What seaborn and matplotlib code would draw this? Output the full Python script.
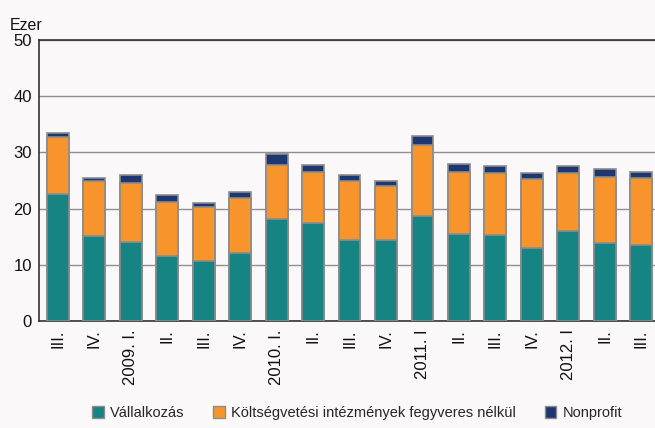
import pandas as pd
import seaborn as sns
import matplotlib.pyplot as plt
from matplotlib.patches import Patch

# quarters 2008 III. - 2012 III.
quarters = ["III.", "IV.", "2009. I.", "II.", "III.", "IV.", "2010. I.", "II.", "III.",
            "IV.", "2011. I", "II.", "III.", "IV.", "2012. I", "II.", "III."]
vallalkozas = [22.6, 15.2, 14.1, 11.5, 10.7, 12.1, 18.1, 17.5, 14.4,
               14.4, 18.7, 15.5, 15.3, 13.0, 16.1, 13.9, 13.5]
koltsegvetesi = [10.2, 9.7, 10.5, 9.6, 9.6, 9.7, 9.7, 9.1, 10.5,
                 9.6, 12.7, 11.1, 11.0, 12.2, 10.2, 11.8, 11.9]
nonprofit = [0.7, 0.6, 1.3, 1.3, 0.7, 1.2, 2.0, 1.2, 1.0,
             1.0, 1.6, 1.3, 1.3, 1.2, 1.3, 1.3, 1.1]

labels = ["Vállalkozás", "Költségvetési intézmények fegyveres nélkül", "Nonprofit"]
colors = ["#168482", "#F7952C", "#1F3770"]

df = pd.DataFrame({"q": range(len(quarters)),
                   "v": vallalkozas, "k": koltsegvetesi, "n": nonprofit})
df["vk"] = df["v"] + df["k"]
df["vkn"] = df["vk"] + df["n"]

sns.set_style("white")
plt.rcParams["font.family"] = ["Liberation Sans", "DejaVu Sans"]
bg = "#FBF8F9"

fig = plt.figure(figsize=(6.55, 4.28), dpi=100, facecolor=bg)
ax = fig.add_axes([0.0595, 0.25, 0.9405, 0.6565])
ax.set_facecolor(bg)

# layered: totals first, then smaller cumulative sums on top
for col, c in zip(["vkn", "vk", "v"], colors[::-1]):
    sns.barplot(data=df, x="q", y=col, color=c, saturation=1, width=0.6,
                edgecolor="#8C8C8C", linewidth=1.2, ax=ax, zorder=3)

ax.set_ylim(0, 50)
ax.set_yticks(range(0, 51, 10))
ax.set_xlim(-0.52, 16.38)
ax.set_xticks(range(len(quarters)))
ax.set_xticklabels(quarters, rotation=90, va="top")
ax.tick_params(axis="both", length=0, labelsize=12, colors="#111111")
ax.tick_params(axis="x", pad=6)
ax.tick_params(axis="y", pad=5)
ax.set_xlabel("")
ax.set_ylabel("")
ax.yaxis.grid(True, color="#8E8E94", linewidth=1.0, zorder=0)
ax.set_axisbelow(True)

for s in ["left", "bottom", "top"]:
    ax.spines[s].set_color("#333333")
    ax.spines[s].set_linewidth(1.2)
ax.spines["right"].set_visible(False)

fig.text(0.015, 0.93, "Ezer", fontsize=11.5, color="#111111")

handles = [Patch(facecolor=c, edgecolor="#8C8C8C", linewidth=1) for c in colors]
fig.legend(handles, labels, loc="center", bbox_to_anchor=(0.545, 0.035), ncol=3,
           frameon=False, fontsize=10.5, handlelength=0.8, handleheight=0.8,
           handletextpad=0.4, columnspacing=2.0)

fig.savefig("out.png", dpi=100, facecolor=bg)
